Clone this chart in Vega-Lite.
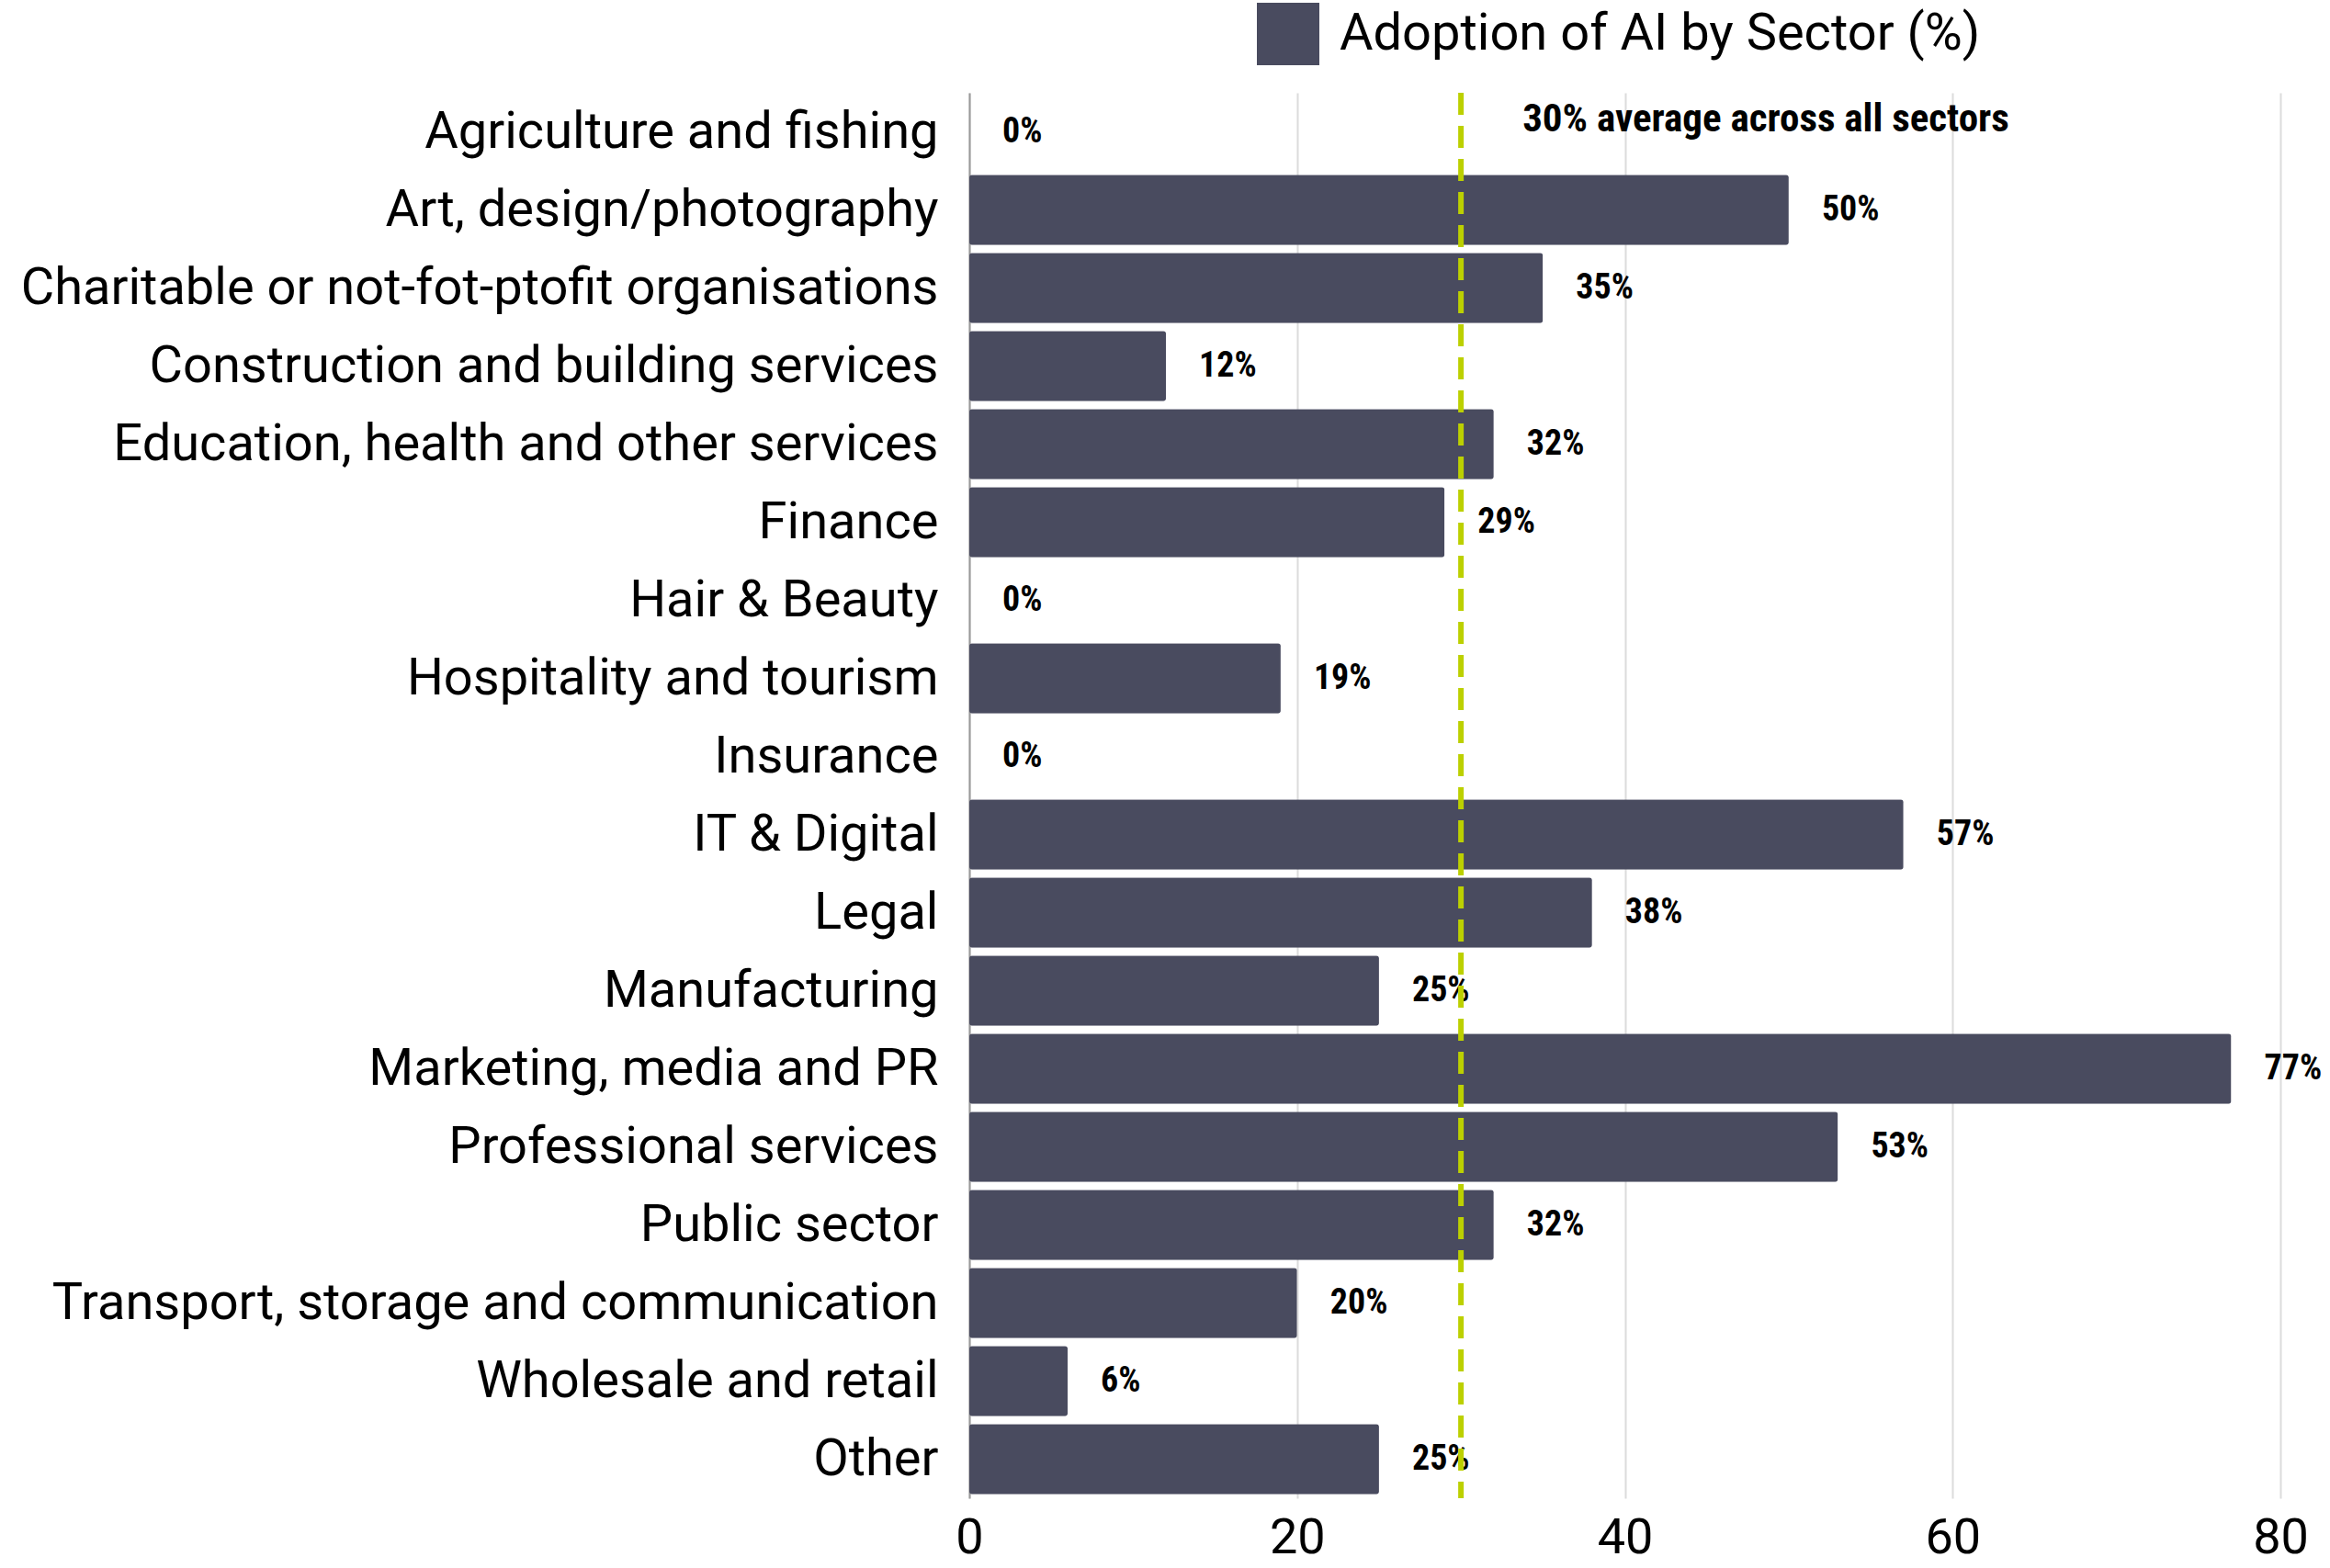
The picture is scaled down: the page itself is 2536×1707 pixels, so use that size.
{
  "$schema": "https://vega.github.io/schema/vega-lite/v6.json",
  "autosize": {"type": "none"},
  "padding": {"left": 1055, "top": 101, "right": 54, "bottom": 76},
  "width": 1427,
  "height": 1530,
  "background": "white",
  "config": {"view": {"stroke": null}},
  "datasets": {
    "sectors": [
      {"sector": "Agriculture and fishing", "value": 0},
      {"sector": "Art, design/photography", "value": 50},
      {"sector": "Charitable or not-fot-ptofit organisations", "value": 35},
      {"sector": "Construction and building services", "value": 12},
      {"sector": "Education, health and other services", "value": 32},
      {"sector": "Finance", "value": 29},
      {"sector": "Hair & Beauty", "value": 0},
      {"sector": "Hospitality and tourism", "value": 19},
      {"sector": "Insurance", "value": 0},
      {"sector": "IT & Digital", "value": 57},
      {"sector": "Legal", "value": 38},
      {"sector": "Manufacturing", "value": 25},
      {"sector": "Marketing, media and PR", "value": 77},
      {"sector": "Professional services", "value": 53},
      {"sector": "Public sector", "value": 32},
      {"sector": "Transport, storage and communication", "value": 20},
      {"sector": "Wholesale and retail", "value": 6},
      {"sector": "Other", "value": 25}
    ],
    "avg": [
      {"avg": 30, "sector": "Agriculture and fishing", "note": "30% average across all sectors"}
    ]
  },
  "layer": [
    {
      "data": {"name": "sectors"},
      "mark": {"type": "bar", "cornerRadius": 3},
      "encoding": {
        "y": {
          "field": "sector", "type": "nominal", "sort": null,
          "scale": {"paddingInner": 0.1, "paddingOuter": 0.05},
          "axis": {
            "title": null, "labelFont": "Roboto", "labelFontSize": 56, "labelColor": "#000000",
            "labelLimit": 1100, "labelPadding": 34, "ticks": false,
            "domain": true, "domainColor": "#9a9a9a", "domainWidth": 2, "grid": false
          }
        },
        "x": {
          "field": "value", "type": "quantitative",
          "scale": {"domain": [0, 80], "nice": false},
          "axis": {
            "title": null, "values": [0, 20, 40, 60, 80], "labelFont": "Roboto", "labelFontSize": 54,
            "labelColor": "#000000", "labelPadding": 16, "labelFlush": false, "ticks": false, "domain": false,
            "grid": true, "gridColor": "#dcdcdc", "gridWidth": 2
          }
        },
        "color": {
          "datum": "Adoption of AI by Sector (%)",
          "scale": {"range": ["#494b5f"]},
          "legend": {
            "title": null, "orient": "none", "legendX": 313, "legendY": -98, "padding": 0,
            "symbolType": "square", "symbolSize": 4624, "symbolStrokeWidth": 0,
            "labelFont": "Roboto", "labelFontSize": 56, "labelColor": "#000000", "labelOffset": 22,
            "labelLimit": 1000
          }
        }
      }
    },
    {
      "data": {"name": "sectors"},
      "transform": [{"calculate": "datum.value + '%'", "as": "label"}],
      "mark": {
        "type": "text", "align": "left", "baseline": "middle", "dx": 36,
        "font": "Liberation Sans Narrow, Roboto Condensed, DejaVu Sans Condensed, Roboto",
        "fontWeight": "bold", "fontSize": 38, "color": "#000000"
      },
      "encoding": {
        "y": {"field": "sector", "type": "nominal", "sort": null},
        "x": {"field": "value", "type": "quantitative"},
        "text": {"field": "label"}
      }
    },
    {
      "data": {"name": "avg"},
      "mark": {"type": "rule", "color": "#bcd000", "strokeWidth": 6, "strokeDash": [24, 12]},
      "encoding": {
        "x": {"field": "avg", "type": "quantitative"}
      }
    },
    {
      "data": {"name": "avg"},
      "mark": {
        "type": "text", "align": "left", "baseline": "middle", "dx": 67, "dy": -14,
        "font": "Liberation Sans Narrow, Roboto Condensed, DejaVu Sans Condensed, Roboto",
        "fontWeight": "bold", "fontSize": 43, "color": "#000000"
      },
      "encoding": {
        "x": {"field": "avg", "type": "quantitative"},
        "y": {"field": "sector", "type": "nominal", "sort": null},
        "text": {"field": "note"}
      }
    }
  ]
}
